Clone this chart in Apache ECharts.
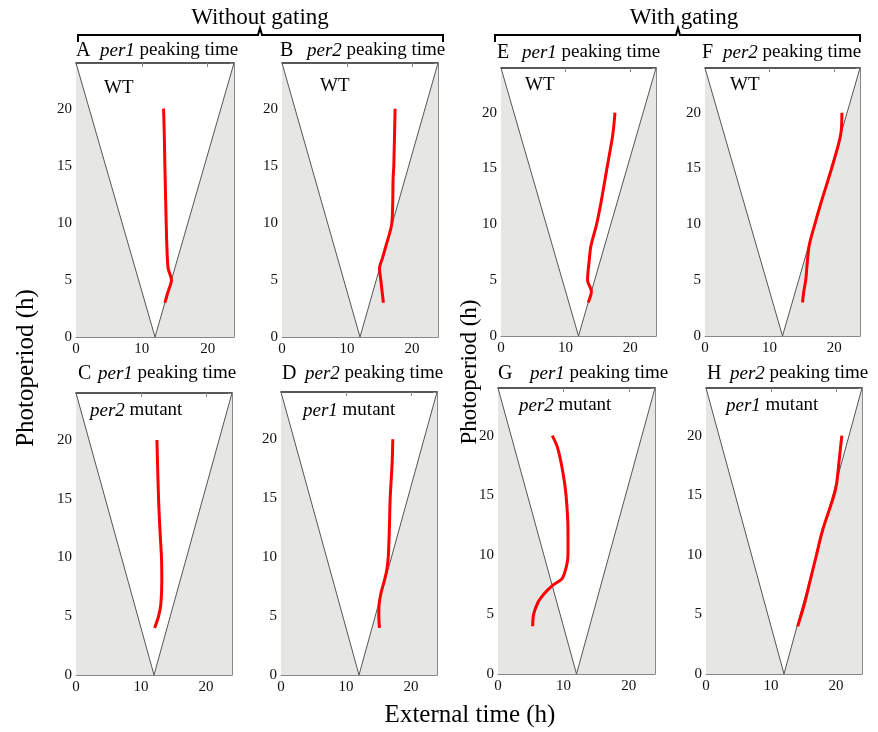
<!DOCTYPE html>
<html>
<head>
<meta charset="utf-8">
<script src="https://cdn.jsdelivr.net/npm/echarts@6/dist/echarts.min.js"></script>
<style>
  html, body { margin: 0; padding: 0; background: #fff; }
  #chart { width: 878px; height: 732px; }
</style>
</head>
<body>
<div id="chart"></div>
<script>
// V-shaped night/day boundary (external time vs photoperiod)
const vTime = [0, 12, 24];
const vPhoto = [24, 0, 24];

// axis ticks
const xTicks = [0, 10, 20];
const yTicks = [0, 5, 10, 15, 20];

// peaking time curves
const timeA = [13.3, 13.4, 13.5, 13.7, 13.8, 14.0, 14.5, 14.0, 13.5];
const photoA = [20, 18, 15, 10, 8, 6, 5, 4, 3];
const timeB = [17.4, 17.2, 17.1, 16.9, 16.0, 15.5, 15.0, 15.2, 15.6];
const photoB = [20, 15, 14, 10, 8, 7, 6, 5, 3];
const timeC = [12.45, 12.7, 12.95, 13.15, 13.2, 13.05, 12.7, 12.1];
const photoC = [20, 15, 12, 10, 8, 6, 5, 4];
const timeD = [17.2, 17.1, 16.8, 16.65, 16.5, 16.3, 15.9, 15.4, 15.1, 15.05, 15.15];
const photoD = [20, 18, 15, 12, 10, 9, 8, 7, 6, 5, 4];
const timeE = [17.65, 17.3, 16.4, 15.5, 14.8, 13.9, 13.7, 13.4, 14.0, 13.5];
const photoE = [20, 18, 15, 12, 10, 8, 7, 5, 4, 3];
const timeF = [21.2, 21.0, 19.6, 18.0, 17.0, 16.1, 15.6, 15.3, 15.1];
const photoF = [20, 18, 15, 12, 10, 8, 5, 4, 3];
const timeG = [8.3, 9.1, 9.9, 10.4, 10.7, 10.7, 10.45, 9.8, 8.5, 7.5, 6.7, 6.1, 5.44, 5.3];
const photoG = [20, 19, 17, 15, 12, 10, 9, 8, 7.5, 7, 6.5, 6, 5, 4];
const timeH = [20.9, 20.5, 20.1, 19.7, 17.9, 17.0, 16.1, 15.2, 14.1];
const photoH = [20, 18, 16, 15, 12, 10, 8, 6, 4];

const panels = [
  { letter: 'A', gene: 'per1', strain: 'WT', time: timeA, photo: photoA, grid: [76, 63, 158, 274], lx: 76, tx: 100, ty: 52, sx: 104, sy: 90 },
  { letter: 'B', gene: 'per2', strain: 'WT', time: timeB, photo: photoB, grid: [282, 63, 156, 274], lx: 280, tx: 307, ty: 52, sx: 320, sy: 88 },
  { letter: 'C', gene: 'per1', strain: 'per2', time: timeC, photo: photoC, grid: [76, 393, 156, 282], lx: 78, tx: 98, ty: 375, sx: 90, sy: 412 },
  { letter: 'D', gene: 'per2', strain: 'per1', time: timeD, photo: photoD, grid: [281, 392, 156, 283], lx: 282, tx: 305, ty: 375, sx: 303, sy: 412 },
  { letter: 'E', gene: 'per1', strain: 'WT', time: timeE, photo: photoE, grid: [501, 68, 155, 268], lx: 497, tx: 522, ty: 54, sx: 525, sy: 87 },
  { letter: 'F', gene: 'per2', strain: 'WT', time: timeF, photo: photoF, grid: [705, 68, 155, 268], lx: 702, tx: 723, ty: 54, sx: 730, sy: 87 },
  { letter: 'G', gene: 'per1', strain: 'per2', time: timeG, photo: photoG, grid: [498, 388, 157, 286], lx: 498, tx: 530, ty: 375, sx: 519, sy: 407 },
  { letter: 'H', gene: 'per2', strain: 'per1', time: timeH, photo: photoH, grid: [706, 388, 156, 286], lx: 707, tx: 730, ty: 375, sx: 726, sy: 407 }
];

const serif = '"Liberation Serif", "DejaVu Serif", serif';
const grids = [], xAxes = [], yAxes = [], series = [], graphics = [];

function zip(xs, ys) {
  return xs.map((x, i) => [x, ys[i]]);
}

panels.forEach((p, i) => {
  grids.push({ left: p.grid[0], top: p.grid[1], width: p.grid[2], height: p.grid[3] });
  const tick = { show: true, inside: true, length: 4, lineStyle: { color: '#888' } };
  const base = { type: 'value', gridIndex: i, min: 0, max: 24, splitLine: { show: false } };
  xAxes.push(Object.assign({}, base, {
    position: 'bottom', interval: 10,
    axisLine: { show: true, lineStyle: { color: '#888', width: 1 } },
    axisTick: tick,
    axisLabel: { showMaxLabel: false, fontFamily: serif, fontSize: 15, color: '#111', margin: 5 }
  }));
  xAxes.push(Object.assign({}, base, {
    position: 'top', interval: 10,
    axisLine: { show: true, onZero: false, lineStyle: { color: '#222', width: 1.5 } },
    axisTick: tick, axisLabel: { show: false }
  }));
  yAxes.push(Object.assign({}, base, {
    position: 'left', interval: 5,
    axisLine: { show: true, onZero: false, lineStyle: { color: '#888', width: 1 } },
    axisTick: tick,
    axisLabel: { showMaxLabel: false, fontFamily: serif, fontSize: 15, color: '#111', margin: 4 }
  }));
  yAxes.push(Object.assign({}, base, {
    position: 'right', interval: 5,
    axisLine: { show: true, onZero: false, lineStyle: { color: '#888', width: 1 } },
    axisTick: tick, axisLabel: { show: false }
  }));

  const vLine = zip(vTime, vPhoto);
  // left shaded triangle
  series.push({
    type: 'line', xAxisIndex: 2 * i, yAxisIndex: 2 * i, data: vLine.slice(0, 2),
    symbol: 'none', silent: true,
    lineStyle: { color: '#555', width: 1 },
    areaStyle: { color: '#e6e6e4', opacity: 1, origin: 'start' }
  });
  // right shaded triangle
  series.push({
    type: 'line', xAxisIndex: 2 * i, yAxisIndex: 2 * i, data: vLine.slice(1, 3),
    symbol: 'none', silent: true,
    lineStyle: { color: '#555', width: 1 },
    areaStyle: { color: '#e6e6e4', opacity: 1, origin: 'start' }
  });
  // peaking time curve
  series.push({
    type: 'line', xAxisIndex: 2 * i, yAxisIndex: 2 * i, data: zip(p.time, p.photo),
    symbol: 'none', smooth: 0.3, z: 5,
    lineStyle: { color: '#ff0000', width: 3 }
  });

  graphics.push({
    type: 'text', left: p.lx, top: p.ty - 11,
    style: { text: p.letter, font: '20px ' + serif, fill: '#000' }
  });
  graphics.push({
    type: 'text', left: p.tx, top: p.ty - 11,
    style: {
      text: '{i|' + p.gene + '} peaking time',
      font: '19px ' + serif, fill: '#000',
      rich: { i: { fontStyle: 'italic', fontFamily: serif, fontSize: 19 } }
    }
  });
  graphics.push({
    type: 'text', left: p.sx, top: p.sy - 11, z: 10,
    style: p.strain === 'WT'
      ? { text: 'WT', font: '19px ' + serif, fill: '#000' }
      : {
          text: '{i|' + p.strain + '} mutant', font: '19px ' + serif, fill: '#000',
          rich: { i: { fontStyle: 'italic', fontFamily: serif, fontSize: 19 } }
        }
  });
});

// group headers with brackets
function bracket(x1, xm, x2) {
  return {
    type: 'polyline',
    shape: { points: [[x1, 42], [x1, 35], [xm - 2, 35], [xm, 28], [xm + 2, 35], [x2, 35], [x2, 42]] },
    style: { stroke: '#000', lineWidth: 2, fill: null }
  };
}
graphics.push(bracket(78, 260, 443));
graphics.push(bracket(495, 678, 860));
graphics.push({ type: 'text', x: 260, y: 18, style: { text: 'Without gating', font: '23px ' + serif, fill: '#000', textAlign: 'center', textVerticalAlign: 'middle' } });
graphics.push({ type: 'text', x: 684, y: 18, style: { text: 'With gating', font: '23px ' + serif, fill: '#000', textAlign: 'center', textVerticalAlign: 'middle' } });

// shared axis names
graphics.push({ type: 'text', x: 470, y: 715, style: { text: 'External time (h)', font: '25px ' + serif, fill: '#000', textAlign: 'center', textVerticalAlign: 'middle' } });
graphics.push({ type: 'text', x: 26, y: 368, rotation: Math.PI / 2, style: { text: 'Photoperiod (h)', font: '25px ' + serif, fill: '#000', textAlign: 'center', textVerticalAlign: 'middle' } });
graphics.push({ type: 'text', x: 470, y: 372, rotation: Math.PI / 2, style: { text: 'Photoperiod (h)', font: '23px ' + serif, fill: '#000', textAlign: 'center', textVerticalAlign: 'middle' } });

const chart = echarts.init(document.getElementById('chart'));
chart.setOption({
  animation: false,
  backgroundColor: '#fff',
  grid: grids,
  xAxis: xAxes,
  yAxis: yAxes,
  series: series,
  graphic: graphics
});
window.addEventListener('resize', () => chart.resize());
</script>
</body>
</html>
